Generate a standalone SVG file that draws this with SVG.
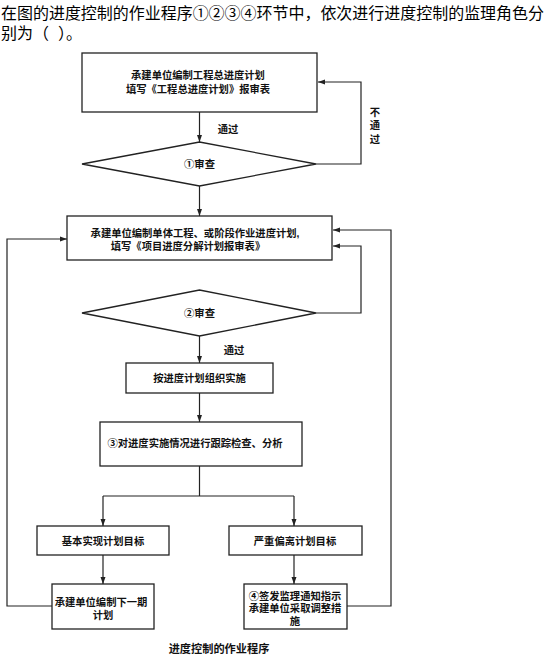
<svg xmlns="http://www.w3.org/2000/svg" width="547" height="658" viewBox="0 0 547 658">
<style>
.q{font-family:"Liberation Sans","Noto Sans CJK SC",sans-serif;font-size:16px;fill:#000}
.t{font-family:"Liberation Sans","Noto Sans CJK SC",sans-serif;font-size:10.3px;font-weight:bold;fill:#111;text-anchor:middle;dominant-baseline:central}
.b{fill:#fff;stroke:#222;stroke-width:1.3}
.c{fill:none;stroke:#222;stroke-width:1.2}
.a{marker-end:url(#arr)}
</style>
<defs>
<marker id="arr" markerUnits="userSpaceOnUse" markerWidth="8" markerHeight="6" refX="7" refY="3" orient="auto">
<path d="M0,0.5 L7,3 L0,5.5 Z" fill="#222"/>
</marker>
</defs>
<rect width="547" height="658" fill="#fff"/>
<text class="q" x="1" y="19" textLength="543" lengthAdjust="spacingAndGlyphs">在图的进度控制的作业程序①②③④环节中，依次进行进度控制的监理角色分</text>
<text class="q" x="1" y="39" xml:space="preserve">别为（  ）。</text>

<g id="connectors">
<path class="c a" d="M199.5,112 V142"/>
<path class="c a" d="M316,164 H361 V82 H318"/>
<path class="c a" d="M199.5,186 V216"/>
<path class="c a" d="M316,313 H361 V246 H333"/>
<path class="c a" d="M199.5,336 V363"/>
<path class="c a" d="M199.5,393 V422"/>
<path class="c" d="M199.5,466 V496 M103,496 H294"/>
<path class="c a" d="M103,496 V526"/>
<path class="c a" d="M294,496 V526"/>
<path class="c a" d="M103,555 V584"/>
<path class="c a" d="M294,555 V584"/>
<path class="c a" d="M52,606 H7 V239 H67"/>
<path class="c a" d="M347,606 H391 V230 H333"/>
<text class="t" x="228" y="129">通过</text>
<text class="t" x="375" y="112">不</text>
<text class="t" x="375" y="125">通</text>
<text class="t" x="375" y="139">过</text>
<text class="t" x="234" y="350">通过</text>
</g>

<g id="n1">
<rect class="b" x="82" y="53" width="235" height="59"/>
<text class="t" x="198" y="75">承建单位编制工程总进度计划</text>
<text class="t" x="198" y="89">填写《工程总进度计划》报审表</text>
</g>
<g id="d1">
<polygon class="b" points="82,164 199.5,142 316,164 199.5,186"/>
<text class="t" x="199.5" y="164">①审查</text>
</g>
<g id="n2">
<rect class="b" x="67" y="216" width="265" height="44"/>
<text class="t" x="195" y="233">承建单位编制单体工程、或阶段作业进度计划,</text>
<text class="t" x="188" y="246">填写《项目进度分解计划报审表》</text>
</g>
<g id="d2">
<polygon class="b" points="82,313 199.5,290 316,313 199.5,336"/>
<text class="t" x="199.5" y="313">②审查</text>
</g>
<g id="n3">
<rect class="b" x="126" y="363" width="147" height="30"/>
<text class="t" x="199.5" y="378">按进度计划组织实施</text>
</g>
<g id="n4">
<rect class="b" x="100" y="422" width="202" height="44"/>
<text class="t" x="195" y="443">③对进度实施情况进行跟踪检查、分析</text>
</g>
<g id="n5">
<rect class="b" x="37" y="526" width="132" height="29"/>
<text class="t" x="103" y="541">基本实现计划目标</text>
</g>
<g id="n6">
<rect class="b" x="229" y="526" width="133" height="29"/>
<text class="t" x="295" y="541">严重偏离计划目标</text>
</g>
<g id="n7">
<rect class="b" x="52" y="584" width="102" height="45"/>
<text class="t" x="101" y="602">承建单位编制下一期</text>
<text class="t" x="103" y="615">计划</text>
</g>
<g id="n8">
<rect class="b" x="244" y="584" width="103" height="45"/>
<text class="t" x="295" y="596">④签发监理通知指示</text>
<text class="t" x="295" y="608">承建单位采取调整措</text>
<text class="t" x="295" y="621">施</text>
</g>
<text class="t" x="219" y="649" style="font-size:11.2px">进度控制的作业程序</text>
</svg>
